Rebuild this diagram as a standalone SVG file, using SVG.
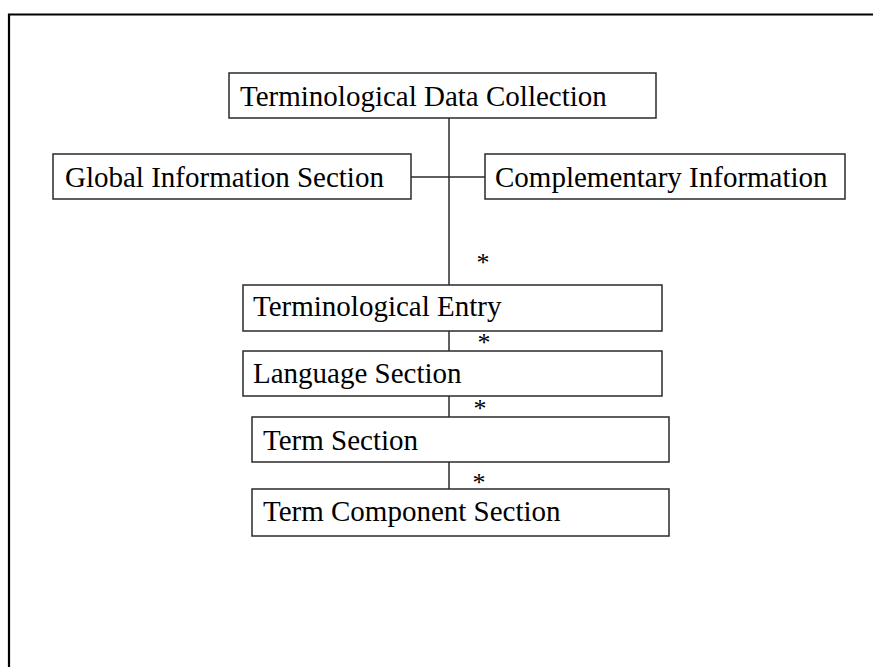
<svg xmlns="http://www.w3.org/2000/svg" width="873" height="667" viewBox="0 0 873 667">
  <style>
    .box { fill: #ffffff; stroke: #2a2a2a; stroke-width: 1.5; }
    .label { font-family: "Liberation Serif", "Times New Roman", serif; font-size: 29px; fill: #000000; }
    .mult { font-family: "Liberation Serif", "Times New Roman", serif; font-size: 26px; fill: #000000; text-anchor: middle; }
    .wire { stroke: #2a2a2a; stroke-width: 1.5; fill: none; }
    .frame { stroke: #000000; stroke-width: 2.2; fill: none; }
  </style>
  <rect width="873" height="667" fill="#ffffff"/>
  <!-- page frame: top and left edges -->
  <path class="frame" d="M9 667 V14.5 H873"/>

  <g id="connectors">
    <path class="wire" d="M449 118 V285"/>
    <path class="wire" d="M411 177 H485"/>
    <path class="wire" d="M449 331 V351"/>
    <path class="wire" d="M449 396 V417"/>
    <path class="wire" d="M449 462 V489"/>
    <text class="mult" x="483" y="271">*</text>
    <text class="mult" x="484" y="351">*</text>
    <text class="mult" x="480" y="417">*</text>
    <text class="mult" x="479" y="491">*</text>
  </g>

  <g id="data-collection">
    <rect class="box" x="229" y="73" width="427" height="45"/>
    <text class="label" x="240" y="106">Terminological Data Collection</text>
  </g>

  <g id="global-info">
    <rect class="box" x="53" y="154" width="358" height="45"/>
    <text class="label" x="65" y="187">Global Information Section</text>
  </g>

  <g id="complementary-info">
    <rect class="box" x="485" y="154" width="360" height="45"/>
    <text class="label" x="495" y="187">Complementary Information</text>
  </g>

  <g id="term-entry">
    <rect class="box" x="243" y="285" width="419" height="46"/>
    <text class="label" x="253" y="316">Terminological Entry</text>
  </g>

  <g id="language-section">
    <rect class="box" x="243" y="351" width="419" height="45"/>
    <text class="label" x="253" y="383">Language Section</text>
  </g>

  <g id="term-section">
    <rect class="box" x="252" y="417" width="417" height="45"/>
    <text class="label" x="263" y="450">Term Section</text>
  </g>

  <g id="term-component-section">
    <rect class="box" x="252" y="489" width="417" height="47"/>
    <text class="label" x="263" y="521">Term Component Section</text>
  </g>
</svg>
